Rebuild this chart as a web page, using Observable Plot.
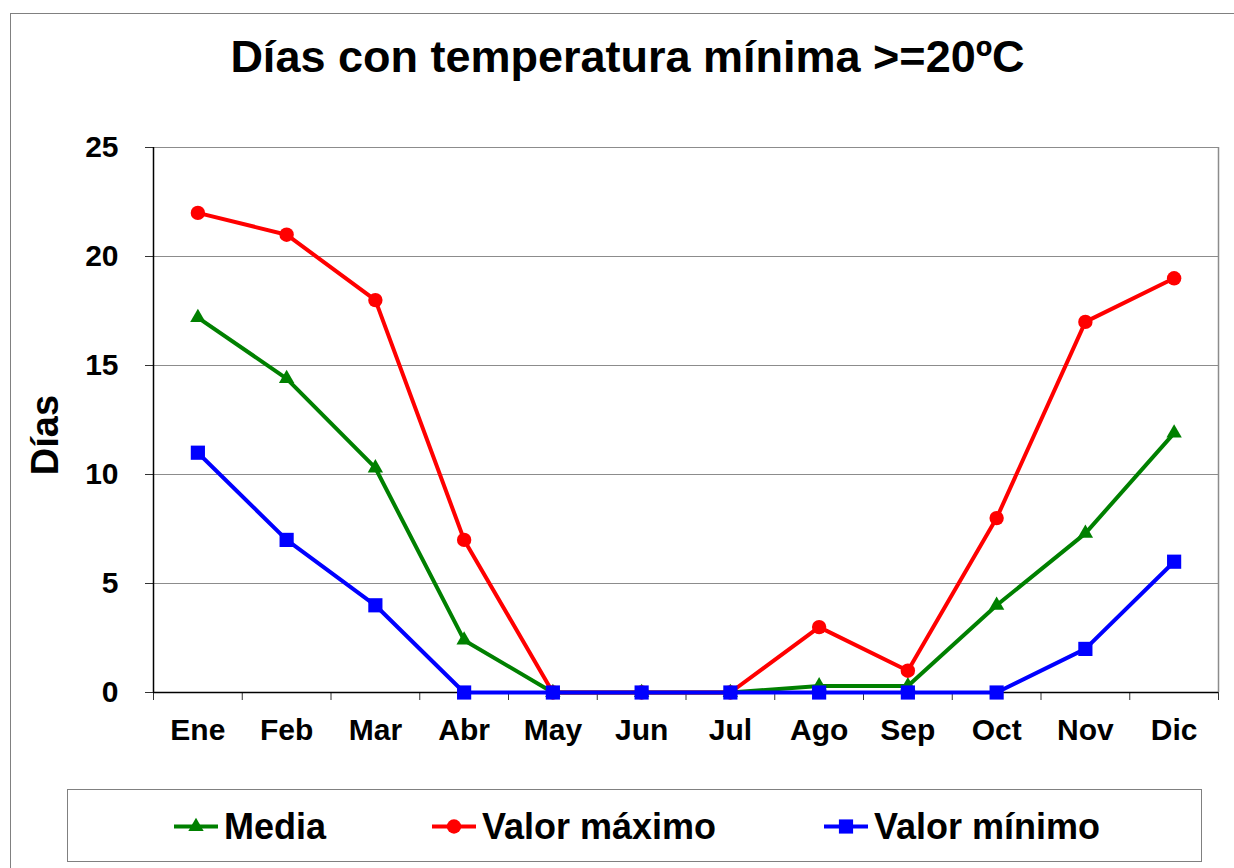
<!DOCTYPE html>
<html>
<head>
<meta charset="utf-8">
<script src="https://cdn.jsdelivr.net/npm/d3@7"></script>
<script src="https://cdn.jsdelivr.net/npm/@observablehq/plot@0.6"></script>
<style>
  html, body { margin: 0; padding: 0; background: #fff; }
  #wrap { position: relative; width: 1234px; height: 868px; overflow: hidden; font-family: "Liberation Sans", Arial, sans-serif; font-weight: bold; color: #000; }
  #frame { position: absolute; left: 10px; top: 13px; width: 1400px; height: 1000px; border: 1px solid #808080; }
  #title { position: absolute; left: 0; width: 1255px; top: 34px; text-align: center; font-size: 45px; line-height: 45px; white-space: nowrap; }
  #ylabel { position: absolute; left: 45px; top: 435px; font-size: 38px; line-height: 38px; transform: translate(-50%, -50%) rotate(-90deg); white-space: nowrap; }
  #chart { position: absolute; left: 0; top: 0; }
  #legend { position: absolute; left: 67px; top: 789px; width: 1135px; height: 73px; border: 1px solid #808080; box-sizing: border-box; }
  .item { position: absolute; top: 19px; height: 35px; display: flex; align-items: center; font-size: 36px; line-height: 36px; white-space: nowrap; }
  .item svg { margin-right: 5px; }
</style>
</head>
<body>
<div id="wrap">
  <div id="frame"></div>
  <div id="title">Días con temperatura mínima &gt;=20ºC</div>
  <div id="chart"></div>
  <div id="ylabel">Días</div>
  <div id="legend"></div>
</div>
<script>
const months = ["Ene", "Feb", "Mar", "Abr", "May", "Jun", "Jul", "Ago", "Sep", "Oct", "Nov", "Dic"];
const media  = [17.2, 14.4, 10.3, 2.4, 0, 0, 0, 0.3, 0.3, 4.0, 7.3, 11.9];
const maximo = [22, 21, 18, 7, 0, 0, 0, 3, 1, 8, 17, 19];
const minimo = [11, 7, 4, 0, 0, 0, 0, 0, 0, 0, 2, 6];
const seriesNames = ["Media", "Valor máximo", "Valor mínimo"];
const seriesColors = ["#008000", "#FF0000", "#0000FF"];
const seriesSymbols = ["triangle", "circle", "square"];
const seriesR = [5.7, 7.2, 8];
const yTicks = [0, 5, 10, 15, 20, 25];
const gridTicks = [5, 10, 15, 20, 25];

const seriesValues = [media, maximo, minimo];
const rows = [];
seriesValues.forEach((vals, s) => {
  vals.forEach((v, i) => rows.push({series: seriesNames[s], s, i, month: months[i], value: v}));
});

const boundaries = d3.range(0, months.length + 1);
const centers = months.map((m, i) => i + 0.5);

const marks = [
  Plot.ruleY(gridTicks, {stroke: "#8c8c8c", strokeWidth: 1}),
  Plot.ruleX([months.length], {stroke: "#8c8c8c", strokeWidth: 1.5}),
  Plot.axisY({ticks: yTicks, tickSize: 8, tickPadding: 27, fontSize: 30, fontWeight: "bold", label: null, color: "#000", stroke: "#333"}),
  Plot.axisX({ticks: boundaries, tickSize: 8, tickFormat: () => "", label: null, stroke: "#333"}),
  Plot.axisX({ticks: centers, tickSize: 0, tickPadding: 26, tickFormat: d => months[Math.floor(d)], fontSize: 30, fontWeight: "bold", label: null, color: "#000"}),
  Plot.ruleY([0], {stroke: "#000", strokeWidth: 1.5}),
  Plot.ruleX([0], {stroke: "#000", strokeWidth: 1.5})
];
seriesNames.forEach((name, s) => {
  const data = rows.filter(d => d.s === s);
  marks.push(Plot.line(data, {x: d => d.i + 0.5, y: "value", stroke: seriesColors[s], strokeWidth: 4}));
  marks.push(Plot.dot(data, {x: d => d.i + 0.5, y: "value", fill: seriesColors[s], stroke: "none", symbol: seriesSymbols[s], r: seriesR[s]}));
});

const chart = Plot.plot({
  width: 1234,
  height: 780,
  marginLeft: 153,
  marginRight: 16,
  marginTop: 147,
  marginBottom: 88,
  style: {fontFamily: "'Liberation Sans', Arial, sans-serif", background: "transparent", overflow: "visible"},
  x: {type: "linear", domain: [0, months.length], axis: null},
  y: {domain: [0, 25], axis: null},
  marks
});
document.getElementById("chart").appendChild(chart);

// Legend
const legendX = [105, 363, 755];
const legend = document.getElementById("legend");
seriesNames.forEach((name, s) => {
  const item = document.createElement("div");
  item.className = "item";
  item.style.left = legendX[s] + "px";
  const w = 46, h = 35;
  const svg = d3.create("svg").attr("width", w).attr("height", h);
  svg.append("line").attr("x1", 1).attr("x2", w - 1).attr("y1", h / 2).attr("y2", h / 2)
     .attr("stroke", seriesColors[s]).attr("stroke-width", 4);
  const symType = {triangle: d3.symbolTriangle, circle: d3.symbolCircle, square: d3.symbolSquare}[seriesSymbols[s]];
  svg.append("path").attr("transform", `translate(${w / 2},${h / 2})`)
     .attr("d", d3.symbol(symType, Math.PI * seriesR[s] * seriesR[s])())
     .attr("fill", seriesColors[s]);
  item.appendChild(svg.node());
  const t = document.createElement("span");
  t.textContent = name;
  item.appendChild(t);
  legend.appendChild(item);
});
</script>
</body>
</html>
